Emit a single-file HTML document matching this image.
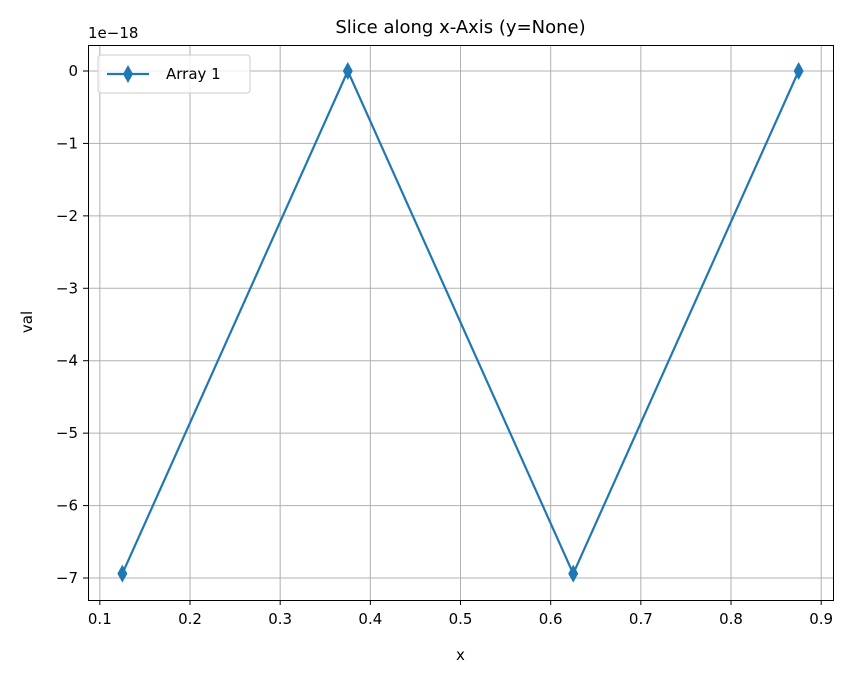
<!DOCTYPE html>
<html><head><meta charset="utf-8"><style>
body{margin:0;background:#fff;font-family:"Liberation Sans","DejaVu Sans",sans-serif}
text{font-family:"DejaVu Sans","Liberation Sans",sans-serif}
</style></head><body>
<svg id="chart" width="853" height="678" xmlns="http://www.w3.org/2000/svg">
<rect width="853" height="678" fill="#fff"/>
<text x="460.5" y="33" font-size="18" text-anchor="middle">Slice along x-Axis (y=None)</text>
<g id="grid"></g>
<g id="ticks" font-size="15"></g>
<text x="460.5" y="660" font-size="15" text-anchor="middle">x</text>
<text x="32" y="322" font-size="15" text-anchor="middle" transform="rotate(-90 32 322)">val</text>
<text x="88" y="38" font-size="15">1e−18</text>
<g id="series"></g>
<rect x="88.5" y="45.5" width="745" height="555" fill="none" stroke="#000" stroke-width="1"/>
<g>
<rect x="98" y="55" width="152" height="38" rx="3" fill="#fff" fill-opacity="0.8" stroke="#ccc"/>
<line x1="107" y1="74" x2="149" y2="74" stroke="#1f77b4" stroke-width="2.2"/>
<path d="M128,65 L133,74 L128,83 L123,74 Z" fill="#1f77b4"/>
<text x="166" y="79" font-size="15">Array 1</text>
</g>
</svg>
<script>
const xValues=[0.125,0.375,0.625,0.875];
const yValues=[-6.94,0,-6.94,0];
const xTicks=[0.1,0.2,0.3,0.4,0.5,0.6,0.7,0.8,0.9];
const yTicks=[0,-1,-2,-3,-4,-5,-6,-7];
const NS="http://www.w3.org/2000/svg";
const X=v=>190+(v-0.2)*901.7;
const Y=v=>71-v*72.43;
const grid=document.getElementById('grid'),ticks=document.getElementById('ticks'),ser=document.getElementById('series');
function mk(tag,attrs,parent){const e=document.createElementNS(NS,tag);for(const k in attrs)e.setAttribute(k,attrs[k]);parent.appendChild(e);return e;}
xTicks.forEach(t=>{const x=X(t);
const g=mk('line',{x1:x,x2:x,y1:45,y2:600,stroke:'#b0b0b0','stroke-width':1},grid);


mk('line',{x1:x,x2:x,y1:600,y2:605,stroke:'#000'},ticks);
const tx=mk('text',{x:x,y:624,'text-anchor':'middle'},ticks);tx.textContent=t.toFixed(1);


});
yTicks.forEach(t=>{const y=Y(t);
const g=mk('line',{x1:88,x2:833,y1:y,y2:y,stroke:'#b0b0b0','stroke-width':1},grid);


mk('line',{x1:83,x2:88,y1:y,y2:y,stroke:'#000'},ticks);
const tx=mk('text',{x:78,y:y+5,'text-anchor':'end'},ticks);tx.textContent=t===0?'0':'−'+Math.abs(t);


});
const pts=xValues.map((v,i)=>X(v)+','+Y(yValues[i])).join(' ');
const pl=mk('polyline',{points:pts,fill:'none',stroke:'#1f77b4','stroke-width':2.2},ser);


xValues.forEach((v,i)=>{const x=X(v),y=Y(yValues[i]);
const m=mk('path',{d:`M${x},${y-9} L${x+5},${y} L${x},${y+9} L${x-5},${y} Z`,fill:'#1f77b4'},ser);


});
</script>
</body></html>
